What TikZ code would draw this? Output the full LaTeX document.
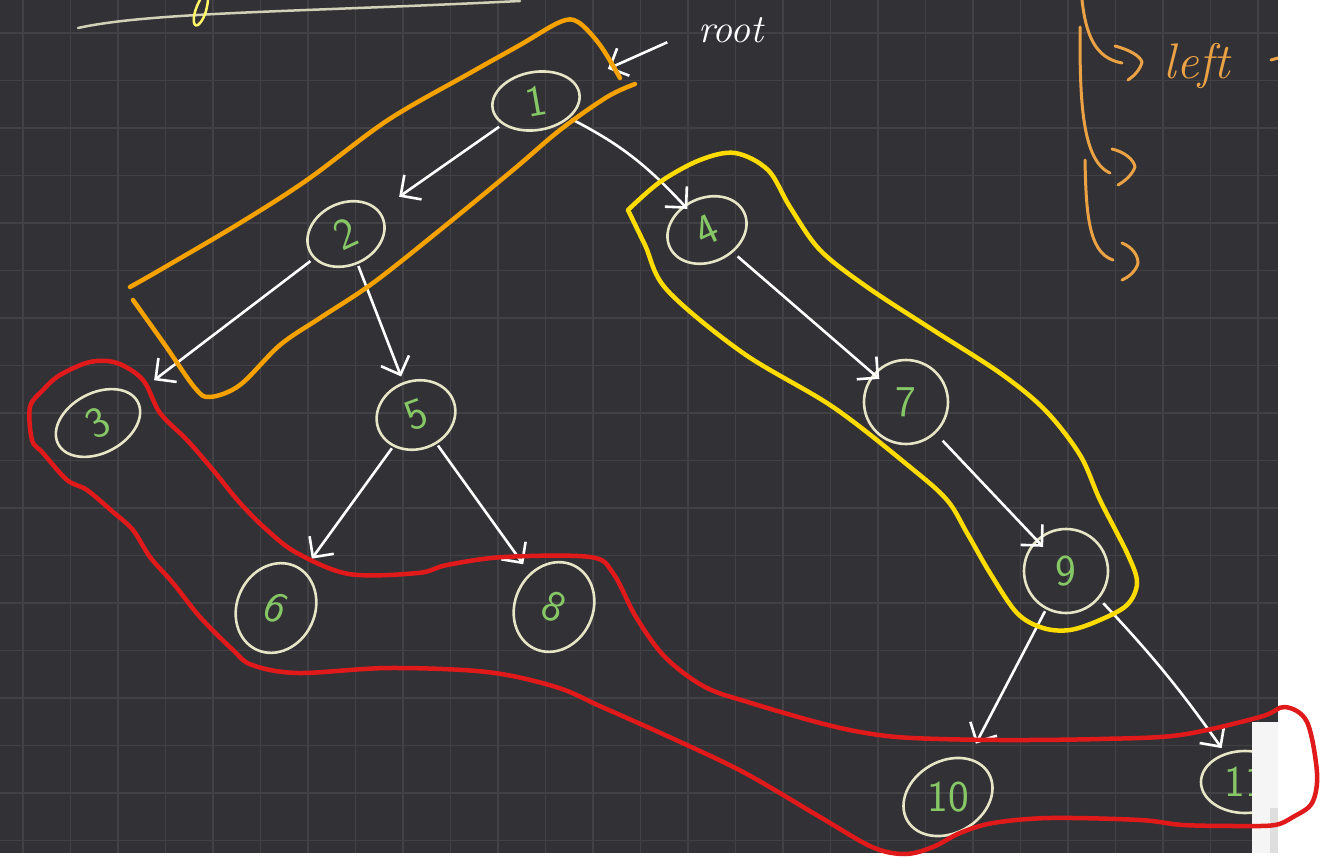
\documentclass[tikz,border=0pt]{standalone}
\usepackage{fontspec}
\usepackage{tikz}
\usetikzlibrary{positioning, shapes.geometric, arrows.meta}

\definecolor{board}{HTML}{323136}
\definecolor{gridline}{HTML}{424146}
\definecolor{chalk}{HTML}{E6E5C6}
\definecolor{digit}{HTML}{86C766}
\definecolor{loopred}{HTML}{E01A1A}
\definecolor{looporange}{HTML}{F5A200}
\definecolor{loopyellow}{HTML}{FFDC00}
\definecolor{penorange}{HTML}{EBA245}

\begin{document}
\begin{tikzpicture}[x=1pt, y=-1pt,
    treenode/.style={ellipse, draw=chalk, line width=2.6pt, inner sep=0pt, text=digit, font=\sffamily\fontsize{44}{44}\selectfont},
    treeedge/.style={-{Straight Barb[length=15pt, width=30pt, line width=2.6pt]}, draw=white, line width=2.6pt},
    loopline/.style={line width=4.5pt, line cap=round, line join=round},
    penline/.style={draw=penorange, line width=3pt, line cap=round, line join=round}]
    \useasboundingbox (0,0) rectangle (1323,859);
    % board and grid
    \fill[white] (0,0) rectangle (1323,859);
    \fill[board] (0,0) rectangle (1278,853);
    \foreach \gx in {0,...,26} \draw[gridline, line width=1.2pt] ({23+47.5*\gx},0) -- ({23+47.5*\gx},853);
    \foreach \gy in {0,...,17} \draw[gridline, line width=1.2pt] (0,{33+47.5*\gy}) -- (1278,{33+47.5*\gy});
    % leftovers at the top
    \draw[draw=chalk!80!gray, line width=2.5pt, line cap=round] (78,28) .. controls (150,12) and (300,12) .. (520,1);
    \draw[draw=yellow!60!white, line width=2.5pt, line cap=round] (200,0) .. controls (192,14) and (192,28) .. (198,25) .. controls (204,20) and (207,10) .. (208,0);
    % tree
    \node[treenode, minimum width=88pt, minimum height=58pt, rotate=10] (n1) at (536,101) {1};
    \node[treenode, minimum width=80pt, minimum height=62pt, rotate=25] (n2) at (346,234) {2};
    \node[treenode, minimum width=90pt, minimum height=60pt, rotate=28] (n3) at (98,423) {3};
    \node[treenode, minimum width=82pt, minimum height=64pt, rotate=25] (n4) at (707,230) {4};
    \node[treenode, minimum width=80pt, minimum height=68pt, rotate=20] (n5) at (416,415) {5};
    \node[treenode, minimum width=78pt, minimum height=92pt, rotate=-25] (n6) at (276,608) {6};
    \node[treenode, minimum width=84pt, minimum height=84pt] (n7) at (906,402) {7};
    \node[treenode, minimum width=78pt, minimum height=92pt, rotate=-25] (n8) at (554,607) {8};
    \node[treenode, minimum width=84pt, minimum height=84pt] (n9) at (1066,571) {9};
    \node[treenode, minimum width=94pt, minimum height=72pt, rotate=30] (n10) at (948,797) {\rotatebox{-30}{10}};
    \node[treenode, minimum width=88pt, minimum height=62pt] (n11) at (1245,782) {11};
    \node[text=white, font=\itshape\fontsize{40}{40}\selectfont] (root) at (731,30) {root};
    % connectors
    \draw[treeedge, shorten <=4pt, shorten >=24pt] (n1) -- (n2);
    \draw[treeedge, shorten <=2pt, shorten >=-5pt] (n1) to[bend left=10] (n4);
    \draw[treeedge, shorten <=4pt, shorten >=25pt] (n2) -- (n3);
    \draw[treeedge, shorten <=2pt, shorten >=6pt] (n2) -- (n5);
    \draw[treeedge, shorten <=6pt, shorten >=-8pt] (n4) -- (n7);
    \draw[treeedge, shorten <=2pt, shorten >=14pt] (n5) -- (n6);
    \draw[treeedge, shorten <=2pt, shorten >=11pt] (n5) -- (n8);
    \draw[treeedge, shorten <=10pt, shorten >=-10pt] (n7) -- (n9);
    \draw[treeedge, shorten <=2pt, shorten >=16pt] (n9) -- (n10);
    \draw[treeedge, shorten <=6pt, shorten >=6pt] (n9.-40) to[bend left=4] (n11);
    \draw[treeedge, shorten <=30pt, shorten >=35pt] (root.west) -- (n1);
    % notes in the corner
    \draw[penline] (1082,0) .. controls (1086,35) and (1095,58) .. (1122,63);
    \draw[penline] (1115,46) .. controls (1130,50) and (1140,56) .. (1142,62) .. controls (1140,70) and (1134,76) .. (1128,80);
    \draw[penline] (1080,27) .. controls (1080,90) and (1080,160) .. (1110,173);
    \draw[penline] (1112,149) .. controls (1125,152) and (1134,160) .. (1135,167) .. controls (1132,175) and (1125,181) .. (1118,185);
    \draw[penline] (1085,160) .. controls (1086,210) and (1088,252) .. (1113,260);
    \draw[penline] (1122,243) .. controls (1132,247) and (1138,255) .. (1138,263) .. controls (1136,271) and (1129,277) .. (1122,280);
    \node[text=penorange, font=\itshape\fontsize{50}{50}\selectfont, anchor=base west] (leftnote) at (1160,78) {left};
    \draw[penline] (1271,60) -- (1278,58);
    % covered corner
    \fill[white] (1278,0) rectangle (1323,859);
    \fill[black!4] (1252,722) rectangle (1278,853);
    \fill[black!13] (1270,808) rectangle (1278,853);
    % groups
    \draw[loopline, looporange] plot[smooth, tension=0.55] coordinates {(620,78) (600,45) (578,22) (560,22) (520,45) (470,73) (388,120) (307,180) (240,223) (160,270) (130,287)};
    \draw[loopline, looporange] plot[smooth, tension=0.55] coordinates {(635,84) (607,97) (560,130) (513,170) (440,230) (373,283) (320,318) (280,345) (240,385) (210,397) (195,388) (165,345) (133,300)};
    \draw[loopline, loopyellow] plot[smooth, tension=0.55] coordinates {(628,210) (660,182) (700,160) (735,153) (768,170) (790,207) (820,250) (867,287) (933,330) (1000,373) (1045,410) (1080,455) (1100,500) (1128,555) (1137,583) (1127,605) (1100,620) (1070,630) (1043,628) (1017,613) (990,573) (967,533) (947,500) (910,467) (833,407) (743,353) (667,290) (645,245) (628,210)};
    \draw[loopline, loopred] plot[smooth cycle, tension=0.55] coordinates {(90,362) (117,363) (143,380) (160,413) (187,440) (213,470) (240,503) (267,530) (297,553) (349,574) (418,573) (447,565) (504,557) (590,557) (613,573) (636,617) (665,657) (705,687) (751,703) (820,723) (866,733) (912,738) (1000,740) (1100,739) (1180,735) (1260,717) (1285,707) (1307,722) (1317,773) (1312,803) (1293,817) (1275,825) (1240,826) (1183,825) (1140,820) (1050,818) (993,823) (960,833) (933,847) (905,854) (872,847) (820,817) (745,773) (676,740) (602,707) (556,687) (487,672) (389,668) (298,673) (252,665) (233,650) (200,617) (173,583) (150,557) (133,530) (113,512) (87,490) (67,480) (43,453) (32,440) (30,407) (43,390) (60,375)};
\end{tikzpicture}
\end{document}
